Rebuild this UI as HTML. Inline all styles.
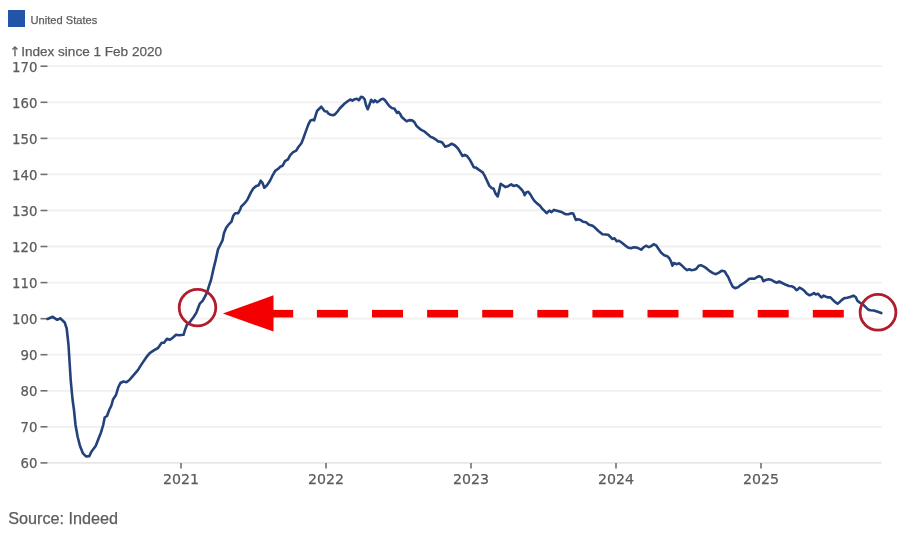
<!DOCTYPE html>
<html><head><meta charset="utf-8"><style>
html,body{margin:0;padding:0;background:#fff;}
body{width:905px;height:534px;overflow:hidden;}
text{stroke:#5c5c5c;stroke-width:0.25px;}
svg{display:block;filter:blur(0.3px);font-family:"Liberation Sans",Arial,sans-serif;}
.grid line{stroke:#efefef;stroke-width:1.8;}
.lab text{fill:#5c5c5c;font-size:13.3px;font-family:"DejaVu Sans",sans-serif;}
.tk{stroke:#707070;stroke-width:1.6;}
</style></head><body>
<svg width="905" height="534" viewBox="0 0 905 534">
<rect x="8" y="10" width="17" height="17" fill="#2254a8"/>
<text x="30.6" y="23.9" font-size="11.1" fill="#5c5c5c">United States</text>
<text x="9.4" y="56.3" font-size="13" fill="#5c5c5c" style="font-family:'DejaVu Sans',sans-serif">↑</text>
<text x="21.2" y="56.3" font-size="13.55" fill="#5c5c5c">Index since 1 Feb 2020</text>
<g class="grid"><line x1="48" y1="462.9" x2="881.5" y2="462.9" style="stroke:#e7e7e7"/><line x1="48" y1="426.8" x2="881.5" y2="426.8"/><line x1="48" y1="390.8" x2="881.5" y2="390.8"/><line x1="48" y1="354.7" x2="881.5" y2="354.7"/><line x1="48" y1="318.7" x2="881.5" y2="318.7"/><line x1="48" y1="282.6" x2="881.5" y2="282.6"/><line x1="48" y1="246.5" x2="881.5" y2="246.5"/><line x1="48" y1="210.5" x2="881.5" y2="210.5"/><line x1="48" y1="174.4" x2="881.5" y2="174.4"/><line x1="48" y1="138.4" x2="881.5" y2="138.4"/><line x1="48" y1="102.3" x2="881.5" y2="102.3"/><line x1="48" y1="66.2" x2="881.5" y2="66.2"/></g>
<g class="lab"><text x="37.5" y="468.4" text-anchor="end">60</text><line class="tk" x1="40.5" y1="462.9" x2="47.5" y2="462.9"/><text x="37.5" y="432.3" text-anchor="end">70</text><line class="tk" x1="40.5" y1="426.8" x2="47.5" y2="426.8"/><text x="37.5" y="396.3" text-anchor="end">80</text><line class="tk" x1="40.5" y1="390.8" x2="47.5" y2="390.8"/><text x="37.5" y="360.2" text-anchor="end">90</text><line class="tk" x1="40.5" y1="354.7" x2="47.5" y2="354.7"/><text x="37.5" y="324.2" text-anchor="end">100</text><line class="tk" x1="40.5" y1="318.7" x2="47.5" y2="318.7"/><text x="37.5" y="288.1" text-anchor="end">110</text><line class="tk" x1="40.5" y1="282.6" x2="47.5" y2="282.6"/><text x="37.5" y="252.0" text-anchor="end">120</text><line class="tk" x1="40.5" y1="246.5" x2="47.5" y2="246.5"/><text x="37.5" y="216.0" text-anchor="end">130</text><line class="tk" x1="40.5" y1="210.5" x2="47.5" y2="210.5"/><text x="37.5" y="179.9" text-anchor="end">140</text><line class="tk" x1="40.5" y1="174.4" x2="47.5" y2="174.4"/><text x="37.5" y="143.9" text-anchor="end">150</text><line class="tk" x1="40.5" y1="138.4" x2="47.5" y2="138.4"/><text x="37.5" y="107.8" text-anchor="end">160</text><line class="tk" x1="40.5" y1="102.3" x2="47.5" y2="102.3"/><text x="37.5" y="71.7" text-anchor="end">170</text><line class="tk" x1="40.5" y1="66.2" x2="47.5" y2="66.2"/><line class="tk" x1="181" y1="463" x2="181" y2="468.5"/><text x="181" y="484.1" text-anchor="middle" style="font-size:14.2px">2021</text><line class="tk" x1="326" y1="463" x2="326" y2="468.5"/><text x="326" y="484.1" text-anchor="middle" style="font-size:14.2px">2022</text><line class="tk" x1="471" y1="463" x2="471" y2="468.5"/><text x="471" y="484.1" text-anchor="middle" style="font-size:14.2px">2023</text><line class="tk" x1="616" y1="463" x2="616" y2="468.5"/><text x="616" y="484.1" text-anchor="middle" style="font-size:14.2px">2024</text><line class="tk" x1="761" y1="463" x2="761" y2="468.5"/><text x="761" y="484.1" text-anchor="middle" style="font-size:14.2px">2025</text></g>
<path d="M47.5,319 L52.7,316.8 L57.2,319.8 L60.2,318.3 L64.7,322.5 L66.7,328.5 L68.5,345 L70.7,380 L72.6,400 L74,410 L75.5,425 L77.7,437 L80,446 L83,453.4 L86,456.4 L89.3,456.1 L91.2,452 L93.4,449 L95.7,446 L98,440 L101,432.4 L103.2,425 L104.7,417.5 L107,416 L109.2,410 L111.4,405.5 L113,399.5 L116,395 L118.2,387.5 L120.4,383 L123.4,381.5 L126.4,382.2 L129.4,380 L132.5,376.4 L137.7,370.4 L141.5,364.4 L146,357.7 L149.7,353.2 L154.2,350.2 L158,348 L161.7,342.7 L164,342.7 L167,338.7 L170,339.7 L173,337.5 L176,334.8 L179,335.3 L183.5,334.8 L185.2,329.4 L186.9,325 L190.2,321.6 L193.6,317 L196.4,312.6 L198.1,308 L199.8,303.6 L202.6,300.8 L204.8,296.9 L207.1,292.4 L208.8,286.7 L211,280 L213.5,268.9 L215.7,259.9 L218,249.4 L220.2,245 L222.5,240.4 L224,233 L226.2,227.7 L228.5,224.7 L231.5,221.7 L233.3,215.7 L235.2,213.2 L238.2,213.2 L240.4,209 L241.2,206.7 L244.2,203.7 L247.2,200 L249,196.4 L251.2,191.9 L253.5,188.2 L256.5,185.9 L258.7,185.2 L260.7,180.7 L262.5,182.9 L264.3,187.7 L267,185.2 L270,180.7 L272.2,176.2 L275.2,170.9 L278.2,168.7 L280.7,166.4 L282.7,165.7 L285,161.2 L288,159.3 L290.2,155.2 L293.2,152.2 L296.2,150.7 L298.4,147 L301.4,143.2 L303,139.2 L306,130.9 L308.2,124.9 L310.5,120.4 L312.7,119.7 L314.2,120.4 L315.7,115.2 L317.2,110.7 L319.5,108.5 L321.3,106.7 L323.2,109.2 L324.7,111.2 L327,111.5 L328.5,113.7 L330.7,114.8 L333,115.2 L335.2,114.2 L337.5,111.5 L339.7,108.5 L342.7,105.5 L345,103.2 L348,101 L350.2,99.5 L352.4,100.7 L354.7,99.2 L356.9,98.7 L358.9,100.2 L361.1,96.8 L362.9,97.2 L364.7,99.5 L365.9,104.7 L367.7,109.2 L369.2,105.5 L371.2,99.8 L373.4,102.2 L374.9,100.2 L377.2,102.2 L379,101 L381.2,99.2 L383.2,98.7 L385,100.2 L387.2,103.2 L389.5,106.2 L392.2,108.2 L394.3,108.5 L396.2,111.5 L397,113 L398.5,111.8 L400,113.7 L401.5,116.7 L404.2,119.2 L406.7,121.2 L409.3,120.1 L412,120.4 L414.2,121.9 L416.4,125.7 L418.7,127.9 L421.7,130.2 L424.7,131.7 L427.7,134.2 L430.7,136.9 L432.9,137.7 L435.9,139.6 L438.2,141.4 L440.4,141.7 L442.2,142.5 L445.2,146.7 L448.2,145.8 L451.7,143.7 L455,145.5 L458,148.5 L460.2,152.2 L462.5,156 L464.7,154.8 L467,156 L470,160.1 L472.2,164.2 L473.7,167.2 L476,167.6 L479,169.9 L482.7,172.4 L484.9,176.2 L487.2,181.1 L489.4,185.9 L491.7,188.2 L493.6,188.6 L495.4,193.4 L497.7,196.4 L499.2,190.4 L500.7,183.7 L502.9,185.2 L505.2,187.1 L508.2,186.2 L511.2,184.4 L513.4,185.9 L516.4,185.2 L518.7,186.7 L522,190 L523.5,192.2 L524.7,195.2 L526.5,192.2 L528.3,191.8 L530.2,194.2 L532.5,198.2 L534.7,201.2 L537,203.4 L540,205.7 L542.2,208.7 L544.5,210.9 L546.7,213.2 L549.3,210.6 L551.2,212.1 L554.2,209.9 L557.9,210.9 L561.7,212.1 L565.4,214.2 L568.4,214.2 L571.4,213.2 L573.2,213.6 L575.9,219.9 L578.2,219.2 L580.4,219.9 L583,221.7 L586,222.2 L589,224.7 L592.7,225.8 L595,227.7 L598.7,231.2 L602.5,234.2 L605.5,234.5 L608.2,234.8 L610.7,237.2 L612.2,239 L614.5,238.2 L616.7,241.2 L619,240.7 L621.9,242.7 L624.9,245.2 L627.9,247.6 L630.9,248.2 L633.9,247.2 L636.9,247.6 L639.2,248.7 L641.4,249.7 L643.7,247.2 L645.9,245.7 L648.9,247.2 L651.2,246.1 L653.7,244.2 L656.4,245.7 L657.9,247.9 L661.2,252.8 L664.2,255.2 L667.2,256.2 L669.5,258.5 L671,261.5 L672.5,265.7 L674,263 L676.2,264.2 L679.2,263.3 L681.5,265.2 L684.5,268.2 L687.2,270.1 L689.3,269.3 L691.2,270.1 L694.2,269.7 L696.4,268.7 L698.7,265.7 L700.9,265.2 L703.9,266.7 L706.9,268.7 L709.9,271.2 L712.9,273.1 L715.9,274.2 L718.9,272.7 L721.9,270.7 L724.9,271.6 L726,273.7 L728.2,277 L730.5,282.2 L732.7,286.7 L735,288.2 L738,287.2 L741,284.8 L744,283 L747,280.7 L749.2,278.8 L752.2,278.5 L754.5,278.8 L756.7,277.3 L759.3,276.2 L761.6,277.3 L763.4,281.2 L765.7,280 L768.7,279.2 L771.7,280 L773.9,281.5 L776.9,282.7 L779.2,281.5 L782.2,283 L785.9,284.8 L788.9,286 L791.9,286.3 L794.2,287.5 L796.4,290.1 L797.9,289.3 L799.5,287.5 L801.7,288.8 L804.6,291.1 L806.8,293.7 L809.6,295.3 L811.9,294.4 L813.9,293.1 L815.8,294.4 L818,293.7 L819.7,295.6 L821.4,297.4 L823.7,295.6 L825.9,296.7 L828.1,297.4 L830.4,297.4 L832.6,299.6 L834.9,301.9 L837.5,303.8 L839.4,302.3 L841.6,300.1 L844.4,298.1 L847.2,297.8 L850.1,297 L853.4,295.6 L855.7,297 L857.4,300.7 L859.6,302.6 L862.4,303.8 L865.2,306.6 L868,309.4 L870.3,310.2 L873.7,310.5 L877,311.6 L881.3,313.1" fill="none" stroke="#23417a" stroke-width="2.6" stroke-linejoin="round" stroke-linecap="round"/>
<g fill="#f40000">
<polygon points="222.9,313.5 273.5,295.3 273.5,331.6"/>
<rect x="273" y="309.9" width="20.2" height="7.6"/>
<rect x="316.9" y="309.9" width="31" height="7.6"/><rect x="372.0" y="309.9" width="31" height="7.6"/><rect x="427.1" y="309.9" width="31" height="7.6"/><rect x="482.2" y="309.9" width="31" height="7.6"/><rect x="537.3" y="309.9" width="31" height="7.6"/><rect x="592.4" y="309.9" width="31" height="7.6"/><rect x="647.5" y="309.9" width="31" height="7.6"/><rect x="702.6" y="309.9" width="31" height="7.6"/><rect x="757.7" y="309.9" width="31" height="7.6"/><rect x="812.8" y="309.9" width="31" height="7.6"/>
</g>
<g fill="none" stroke="#b21d2d" stroke-width="2.8">
<circle cx="197.5" cy="307.6" r="18.3"/>
<circle cx="878" cy="312.3" r="17.9"/>
</g>
<text x="8.2" y="524.3" font-size="16.2" fill="#5c5c5c">Source: Indeed</text>
</svg>
</body></html>
